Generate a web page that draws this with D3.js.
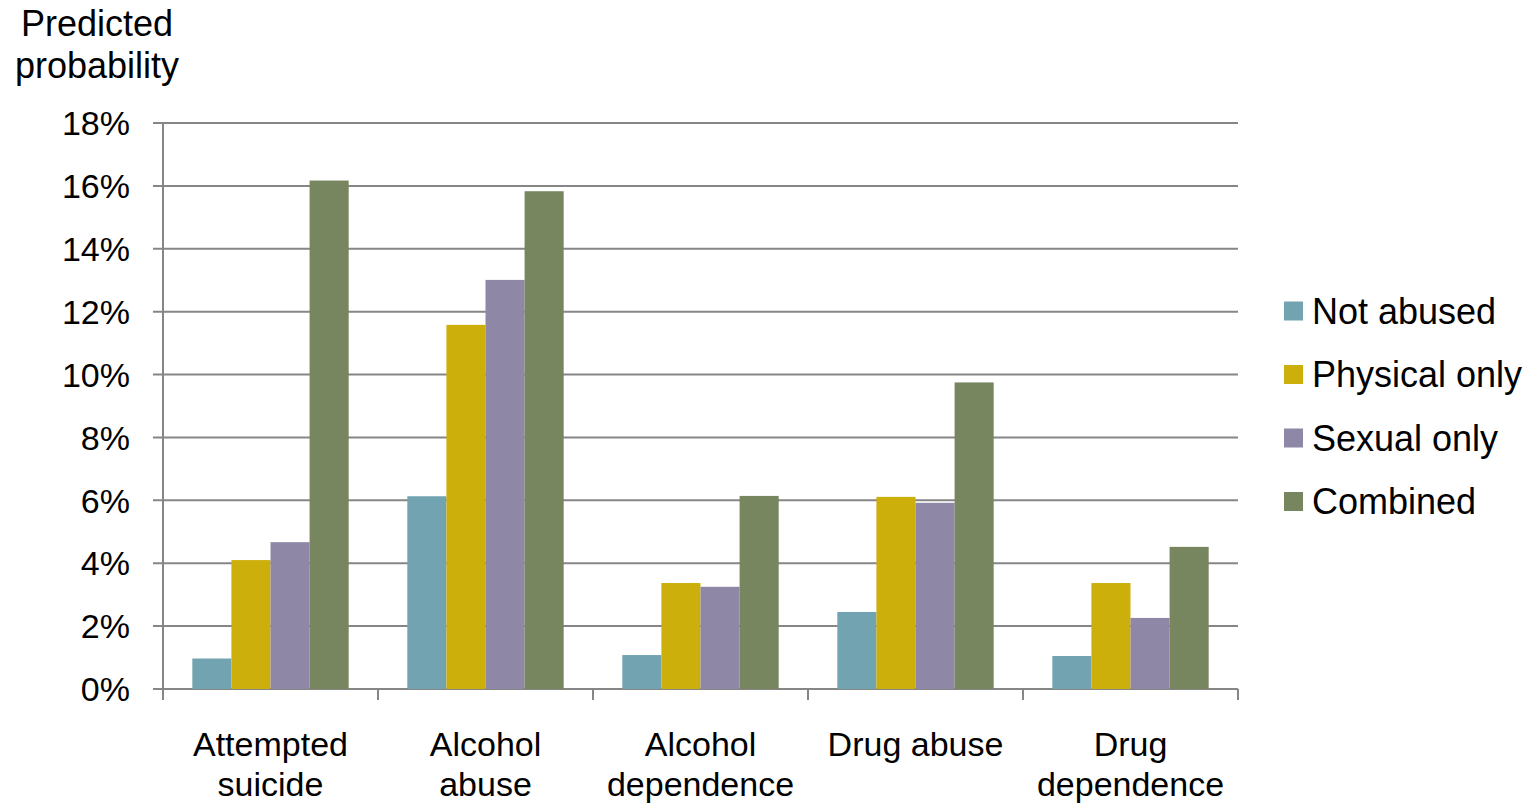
<!DOCTYPE html>
<html>
<head>
<meta charset="utf-8">
<script src="https://cdn.jsdelivr.net/npm/d3@7"></script>
<style>
  body { margin: 0; background: #fff; }
  text { font-family: 'Liberation Sans', Arial, sans-serif; fill: #000; }
</style>
</head>
<body>
<div id="chart"></div>
<script>
// categories and series (values in %)
const categories = [['Attempted', 'suicide'], ['Alcohol', 'abuse'], ['Alcohol', 'dependence'], ['Drug abuse'], ['Drug', 'dependence']]
const seriesNames = ['Not abused', 'Physical only', 'Sexual only', 'Combined']
const notAbused = [0.97, 6.13, 1.08, 2.45, 1.05]
const physicalOnly = [4.1, 11.58, 3.37, 6.11, 3.37]
const sexualOnly = [4.67, 13.01, 3.25, 5.92, 2.26]
const combined = [16.17, 15.83, 6.14, 9.75, 4.52]
const colors = ['#71a3b0', '#cdaf0b', '#8e88a6', '#77865f']
const yTicks = [0, 2, 4, 6, 8, 10, 12, 14, 16, 18]

const seriesValues = [notAbused, physicalOnly, sexualOnly, combined]
const width = 1539
const height = 805
const margin = { top: 123, right: 301, bottom: 116, left: 163 }

const svg = d3.select('#chart').append('svg')
  .attr('width', width)
  .attr('height', height)

const catKeys = categories.map(d => d.join(' '))

const x0 = d3.scaleBand()
  .domain(catKeys)
  .range([margin.left, width - margin.right])
  .paddingInner(0)

// Excel style gap: 150% of a bar width, split on both sides
const barW = x0.bandwidth() / (seriesNames.length + 1.5)
const x1 = d3.scaleBand()
  .domain(seriesNames)
  .range([barW * 0.75, barW * 0.75 + barW * seriesNames.length])

const y = d3.scaleLinear()
  .domain([0, 18])
  .range([height - margin.bottom, margin.top])

// gridlines
svg.append('g')
  .selectAll('line')
  .data(yTicks)
  .join('line')
  .attr('x1', margin.left - 10)
  .attr('x2', width - margin.right)
  .attr('y1', d => y(d))
  .attr('y2', d => y(d))
  .attr('stroke', '#868686')
  .attr('stroke-width', 2)

// y axis line
svg.append('line')
  .attr('x1', margin.left).attr('x2', margin.left)
  .attr('y1', y(18)).attr('y2', y(0) + 11)
  .attr('stroke', '#868686')
  .attr('stroke-width', 2)

// x category ticks
const xTickPos = catKeys.map(k => x0(k)).concat([width - margin.right])
svg.append('g')
  .selectAll('line')
  .data(xTickPos)
  .join('line')
  .attr('x1', d => d).attr('x2', d => d)
  .attr('y1', y(0)).attr('y2', y(0) + 11)
  .attr('stroke', '#868686')
  .attr('stroke-width', 2)

// y tick labels
svg.append('g')
  .selectAll('text')
  .data(yTicks)
  .join('text')
  .attr('x', 130)
  .attr('y', d => y(d))
  .attr('dy', '0.36em')
  .attr('text-anchor', 'end')
  .style('font-size', '34px')
  .text(d => d + '%')

// bars
const groups = svg.append('g')
  .selectAll('g')
  .data(catKeys)
  .join('g')
  .attr('transform', d => `translate(${x0(d)},0)`)

groups.selectAll('rect')
  .data((d, i) => seriesNames.map((s, j) => ({ s, v: seriesValues[j][i], c: colors[j] })))
  .join('rect')
  .attr('x', d => x1(d.s))
  .attr('width', x1.bandwidth())
  .attr('y', d => y(d.v))
  .attr('height', d => y(0) - y(d.v))
  .attr('fill', d => d.c)

// category labels
const catLabels = svg.append('g')
  .selectAll('text')
  .data(categories)
  .join('text')
  .attr('text-anchor', 'middle')
  .attr('x', (d, i) => x0(catKeys[i]) + x0.bandwidth() / 2)
  .attr('y', 756)
  .style('font-size', '34px')

catLabels.selectAll('tspan')
  .data(d => d)
  .join('tspan')
  .attr('x', function () { return d3.select(this.parentNode).attr('x') })
  .attr('dy', (d, i) => i === 0 ? 0 : 40)
  .text(d => d)

// y axis title
const yTitle = svg.append('text')
  .attr('text-anchor', 'middle')
  .attr('x', 97)
  .attr('y', 36)
  .style('font-size', '36px')
yTitle.append('tspan').attr('x', 97).text('Predicted')
yTitle.append('tspan').attr('x', 97).attr('dy', 42).text('probability')

// legend
const legend = svg.append('g')
  .selectAll('g')
  .data(seriesNames)
  .join('g')
  .attr('transform', (d, i) => `translate(1284,${311 + i * 63.5})`)

legend.append('rect')
  .attr('x', 0)
  .attr('y', -9.5)
  .attr('width', 19)
  .attr('height', 19)
  .attr('fill', (d, i) => colors[i])

legend.append('text')
  .attr('x', 28)
  .attr('y', 0)
  .attr('dy', '0.36em')
  .style('font-size', '36px')
  .text(d => d)
</script>
</body>
</html>
